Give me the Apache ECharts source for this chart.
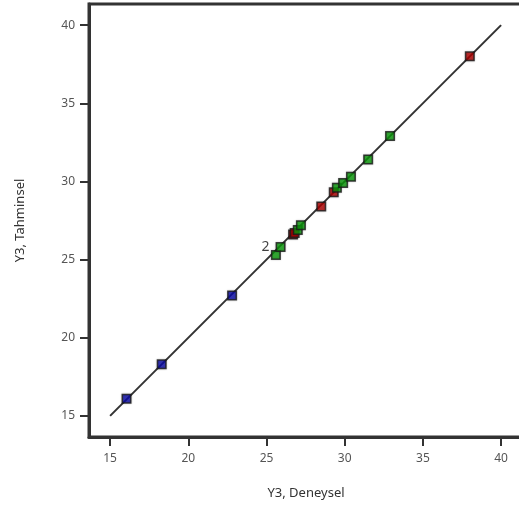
<!DOCTYPE html>
<html><head><meta charset="utf-8">
<script src="https://cdn.jsdelivr.net/npm/echarts@6/dist/echarts.min.js"></script>
<style>html,body{margin:0;padding:0;background:#fff}#c{width:519px;height:512px}</style>
</head><body><div id="c"></div>
<script>
const xTicks = [15, 20, 25, 30, 35, 40];
const yTicks = [15, 20, 25, 30, 35, 40];
const fitLine = [[15, 15], [40, 40]];
const bluePts = [[16.05, 16.1], [18.3, 18.3], [22.8, 22.7]];
const redPts = [[26.7, 26.6], [26.8, 26.7], [28.5, 28.4], [29.3, 29.3], [38.0, 38.0]];
const greenPts = [[25.6, 25.3], [25.9, 25.8], [27.0, 26.9], [27.2, 27.2], [29.5, 29.6], [29.9, 29.9], [30.4, 30.3], [31.5, 31.4], [32.9, 32.9]];
const labelPoint = [25.9, 25.8];
const labelText = '2';

const chart = echarts.init(document.getElementById('c'));
const lab = {color: '#555', fontSize: 12, fontFamily: 'Noto Sans'};
const mk = (data, color) => ({
  type: 'scatter', data: data, symbol: 'rect', symbolSize: 8.5, z: 3,
  itemStyle: {color: color, borderColor: '#1a1a1a', borderWidth: 1.5, shadowColor: 'rgba(0,0,0,0.25)', shadowBlur: 2}
});
chart.setOption({
  animation: false,
  grid: {left: 89, top: 4, width: 434, height: 433, show: true, borderColor: '#333', borderWidth: 3, backgroundColor: '#fff', outerBoundsMode: 'none', containLabel: false},
  xAxis: {
    type: 'value', min: 13.65, max: 41.4,
    name: 'Y3, Deneysel', nameLocation: 'middle', nameGap: 50,
    nameTextStyle: {color: '#333', fontSize: 13, fontFamily: 'Noto Sans'},
    axisLine: {show: true, lineStyle: {color: '#333', width: 3}},
    axisTick: {show: true, length: 9, lineStyle: {color: '#333', width: 2}, customValues: xTicks},
    axisLabel: Object.assign({margin: 16, customValues: xTicks}, lab),
    splitLine: {show: false}
  },
  yAxis: {
    type: 'value', min: 13.65, max: 41.35,
    name: 'Y3, Tahminsel', nameLocation: 'middle', nameGap: 62,
    nameTextStyle: {color: '#333', fontSize: 13, fontFamily: 'Noto Sans'},
    axisLine: {show: true, lineStyle: {color: '#333', width: 3}},
    axisTick: {show: true, length: 9, lineStyle: {color: '#333', width: 2}, customValues: yTicks},
    axisLabel: Object.assign({margin: 14, customValues: yTicks}, lab),
    splitLine: {show: false}
  },
  series: [
    {type: 'line', data: fitLine, symbol: 'none', z: 2, lineStyle: {color: '#333', width: 2}},
    mk(bluePts, '#0a0aa8'),
    mk(redPts, '#b00000'),
    mk(greenPts, '#0a9a0a'),
    {type: 'scatter', data: [labelPoint], symbolSize: 2, itemStyle: {color: 'rgba(0,0,0,0)'}, z: 4,
     label: {show: true, formatter: labelText, position: 'left', distance: 10, color: '#111', fontSize: 14, fontFamily: 'Noto Sans'}}
  ]
});
</script></body></html>
